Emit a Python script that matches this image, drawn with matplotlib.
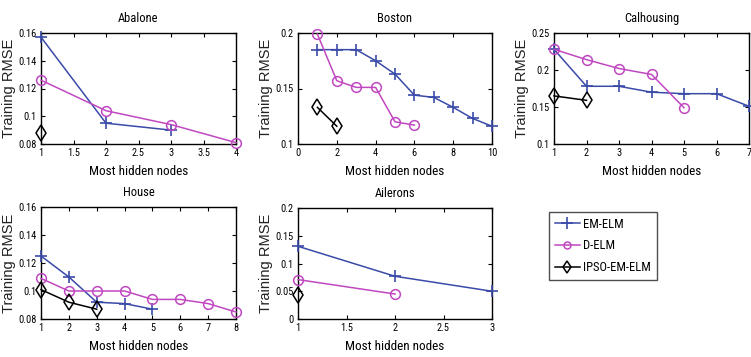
import matplotlib
matplotlib.use('Agg')
import matplotlib.pyplot as plt
from matplotlib.lines import Line2D

NARROW = ['Liberation Sans Narrow', 'Arial Narrow', 'Roboto Condensed', 'PT Sans Narrow',
          'Archivo Narrow', 'Open Sans Condensed', 'Liberation Sans', 'DejaVu Sans']
plt.rcParams['font.family'] = NARROW

# data
abalone_em_x = [1, 2, 3]
abalone_em_y = [0.157, 0.095, 0.090]
abalone_d_x = [1, 2, 3, 4]
abalone_d_y = [0.126, 0.104, 0.094, 0.081]
abalone_ipso_x = [1]
abalone_ipso_y = [0.088]

boston_em_x = [1, 2, 3, 4, 5, 6, 7, 8, 9, 10]
boston_em_y = [0.185, 0.185, 0.185, 0.175, 0.163, 0.144, 0.142, 0.133, 0.123, 0.116]
boston_d_x = [1, 2, 3, 4, 5, 6]
boston_d_y = [0.199, 0.157, 0.151, 0.151, 0.120, 0.117]
boston_ipso_x = [1, 2]
boston_ipso_y = [0.133, 0.116]

cal_em_x = [1, 2, 3, 4, 5, 6, 7]
cal_em_y = [0.228, 0.178, 0.178, 0.170, 0.168, 0.168, 0.151]
cal_d_x = [1, 2, 3, 4, 5]
cal_d_y = [0.228, 0.214, 0.202, 0.194, 0.149]
cal_ipso_x = [1, 2]
cal_ipso_y = [0.165, 0.159]

house_em_x = [1, 2, 3, 4, 5]
house_em_y = [0.125, 0.110, 0.092, 0.091, 0.087]
house_d_x = [1, 2, 3, 4, 5, 6, 7, 8]
house_d_y = [0.109, 0.100, 0.100, 0.100, 0.094, 0.094, 0.091, 0.085]
house_ipso_x = [1, 2, 3]
house_ipso_y = [0.101, 0.092, 0.087]

ail_em_x = [1, 2, 3]
ail_em_y = [0.131, 0.077, 0.050]
ail_d_x = [1, 2]
ail_d_y = [0.071, 0.045]
ail_ipso_x = [1]
ail_ipso_y = [0.044]

BLUE = '#3a4aa8'
MAGENTA = '#c048c0'
BLACK = 'black'

W, H = 751, 357


def px_axes(fig, left, top, right, bottom):
    return fig.add_axes([left / W, 1 - bottom / H, (right - left) / W, (bottom - top) / H])


def draw(ax, title, em, d, ipso, xlim, xticks, ylim, yticks, ytl):
    ax.plot(em[0], em[1], color=BLUE, marker='+', ms=8, mew=1.2, lw=1.1, clip_on=False, zorder=3)
    ax.plot(d[0], d[1], color=MAGENTA, marker='o', ms=7, mfc='none', mew=1.1, lw=1.1, clip_on=False, zorder=3)
    ax.plot(ipso[0], ipso[1], color=BLACK, marker='d', ms=8, mfc='none', mew=1.1, lw=1.1, clip_on=False, zorder=4)
    ax.set_xlim(*xlim)
    ax.set_ylim(*ylim)
    ax.set_xticks(xticks)
    ax.set_yticks(yticks)
    ax.set_yticklabels(ytl)
    ax.tick_params(direction='in', top=True, right=True, labelsize=7.5, length=3, pad=3)
    for s in ax.spines.values():
        s.set_linewidth(1.0)
    ax.set_title(title, fontsize=9, pad=8)
    ax.set_xlabel('Most hidden nodes', fontsize=9.5, labelpad=5)
    ax.set_ylabel('Training RMSE', fontsize=10.5, color='#222222',
                  family=['Liberation Sans', 'DejaVu Sans'], labelpad=2)


fig = plt.figure(figsize=(W / 100, H / 100), dpi=100)

ax1 = px_axes(fig, 41, 33, 236, 144)
draw(ax1, 'Abalone', (abalone_em_x, abalone_em_y), (abalone_d_x, abalone_d_y),
     (abalone_ipso_x, abalone_ipso_y), (1, 4), [1, 1.5, 2, 2.5, 3, 3.5, 4],
     (0.08, 0.16), [0.08, 0.1, 0.12, 0.14, 0.16], ['0.08', '0.1', '0.12', '0.14', '0.16'])
ax1.set_xticklabels(['1', '1.5', '2', '2.5', '3', '3.5', '4'])

ax2 = px_axes(fig, 298, 33, 492, 144)
draw(ax2, 'Boston', (boston_em_x, boston_em_y), (boston_d_x, boston_d_y),
     (boston_ipso_x, boston_ipso_y), (0, 10), [0, 2, 4, 6, 8, 10],
     (0.1, 0.2), [0.1, 0.15, 0.2], ['0.1', '0.15', '0.2'])

ax3 = px_axes(fig, 554, 33, 749, 144)
draw(ax3, 'Calhousing', (cal_em_x, cal_em_y), (cal_d_x, cal_d_y),
     (cal_ipso_x, cal_ipso_y), (1, 7), [1, 2, 3, 4, 5, 6, 7],
     (0.1, 0.25), [0.1, 0.15, 0.2, 0.25], ['0.1', '0.15', '0.2', '0.25'])

ax4 = px_axes(fig, 41, 207, 236, 319)
draw(ax4, 'House', (house_em_x, house_em_y), (house_d_x, house_d_y),
     (house_ipso_x, house_ipso_y), (1, 8), [1, 2, 3, 4, 5, 6, 7, 8],
     (0.08, 0.16), [0.08, 0.1, 0.12, 0.14, 0.16], ['0.08', '0.1', '0.12', '0.14', '0.16'])

ax5 = px_axes(fig, 298, 208, 492, 319)
draw(ax5, 'Ailerons', (ail_em_x, ail_em_y), (ail_d_x, ail_d_y),
     (ail_ipso_x, ail_ipso_y), (1, 3), [1, 1.5, 2, 2.5, 3],
     (0, 0.2), [0, 0.05, 0.1, 0.15, 0.2], ['0', '0.05', '0.1', '0.15', '0.2'])
ax5.set_xticklabels(['1', '1.5', '2', '2.5', '3'])

handles = [
    Line2D([], [], color=BLUE, marker='+', ms=8, mew=1.2, lw=1.1, label='EM-ELM'),
    Line2D([], [], color=MAGENTA, marker='o', ms=5, mfc='none', mew=1.1, lw=1.1, label='D-ELM'),
    Line2D([], [], color=BLACK, marker='d', ms=6, mfc='none', mew=1.1, lw=1.1, label='IPSO-EM-ELM'),
]
leg = fig.legend(handles=handles, loc='upper left', bbox_to_anchor=(549 / W, 1 - 212 / H),
                 frameon=True, fancybox=False, fontsize=9, handlelength=2.0,
                 handletextpad=0.3, borderpad=0.45, labelspacing=0.7, borderaxespad=0)
leg.get_frame().set_edgecolor('#222222')
leg.get_frame().set_linewidth(1.0)

fig.savefig('out.png', dpi=100)
